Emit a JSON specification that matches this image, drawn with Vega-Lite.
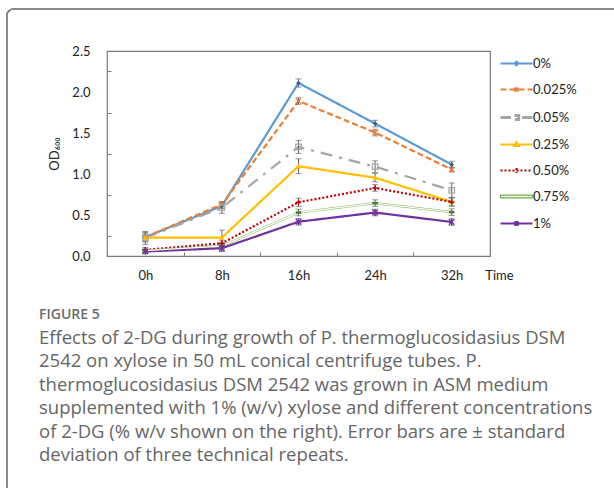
{
  "$schema": "https://vega.github.io/schema/vega-lite/v6.json",
  "width": 383,
  "height": 205,
  "autosize": "none",
  "padding": {"left": 107, "top": 51, "right": 124, "bottom": 232},
  "background": "white",
  "config": {
    "font": "Lato",
    "view": {"stroke": "#7a7a7a", "strokeWidth": 1.2},
    "axis": {"labelFont": "Lato", "labelFontSize": 13, "labelColor": "#222", "titleFont": "Lato", "titleFontSize": 13, "titleFontWeight": "normal", "titleColor": "#222", "domain": false, "grid": false, "tickColor": "#7a7a7a"}
  },
  "title": {
    "text": "FIGURE 5",
    "subtitle": [
      "Effects of 2-DG during growth of P. thermoglucosidasius DSM",
      "2542 on xylose in 50 mL conical centrifuge tubes. P.",
      "thermoglucosidasius DSM 2542 was grown in ASM medium",
      "supplemented with 1% (w/v) xylose and different concentrations",
      "of 2-DG (% w/v shown on the right). Error bars are ± standard",
      "deviation of three technical repeats."
    ],
    "orient": "bottom",
    "anchor": "start",
    "frame": "group",
    "dx": -68,
    "offset": -189,
    "font": "Open Sans",
    "fontSize": 14,
    "fontWeight": 600,
    "color": "#6a6a6a",
    "subtitleFont": "Open Sans",
    "subtitleFontSize": 18.5,
    "subtitleColor": "#666666",
    "subtitleLineHeight": 23.5,
    "subtitlePadding": 7
  },
  "data": {"values": [
    {"time": "0h", "conc": "0%", "od": 0.23, "err": 0.06},
    {"time": "8h", "conc": "0%", "od": 0.61, "err": 0.03},
    {"time": "16h", "conc": "0%", "od": 2.11, "err": 0.05},
    {"time": "24h", "conc": "0%", "od": 1.615, "err": 0.04},
    {"time": "32h", "conc": "0%", "od": 1.115, "err": 0.04},
    {"time": "0h", "conc": "0.025%", "od": 0.23, "err": 0.05},
    {"time": "8h", "conc": "0.025%", "od": 0.63, "err": 0.03},
    {"time": "16h", "conc": "0.025%", "od": 1.89, "err": 0.04},
    {"time": "24h", "conc": "0.025%", "od": 1.505, "err": 0.04},
    {"time": "32h", "conc": "0.025%", "od": 1.055, "err": 0.03},
    {"time": "0h", "conc": "0.05%", "od": 0.22, "err": 0.08},
    {"time": "8h", "conc": "0.05%", "od": 0.59, "err": 0.07},
    {"time": "16h", "conc": "0.05%", "od": 1.33, "err": 0.08},
    {"time": "24h", "conc": "0.05%", "od": 1.09, "err": 0.07},
    {"time": "32h", "conc": "0.05%", "od": 0.8, "err": 0.09},
    {"time": "0h", "conc": "0.25%", "od": 0.225, "err": 0.03},
    {"time": "8h", "conc": "0.25%", "od": 0.225, "err": 0.09},
    {"time": "16h", "conc": "0.25%", "od": 1.095, "err": 0.09},
    {"time": "24h", "conc": "0.25%", "od": 0.955, "err": 0.05},
    {"time": "32h", "conc": "0.25%", "od": 0.66, "err": 0.05},
    {"time": "0h", "conc": "0.50%", "od": 0.075, "err": 0.03},
    {"time": "8h", "conc": "0.50%", "od": 0.155, "err": 0.03},
    {"time": "16h", "conc": "0.50%", "od": 0.655, "err": 0.05},
    {"time": "24h", "conc": "0.50%", "od": 0.83, "err": 0.04},
    {"time": "32h", "conc": "0.50%", "od": 0.66, "err": 0.05},
    {"time": "0h", "conc": "0.75%", "od": 0.065, "err": 0.02},
    {"time": "8h", "conc": "0.75%", "od": 0.12, "err": 0.03},
    {"time": "16h", "conc": "0.75%", "od": 0.53, "err": 0.04},
    {"time": "24h", "conc": "0.75%", "od": 0.645, "err": 0.04},
    {"time": "32h", "conc": "0.75%", "od": 0.535, "err": 0.04},
    {"time": "0h", "conc": "1%", "od": 0.055, "err": 0.02},
    {"time": "8h", "conc": "1%", "od": 0.095, "err": 0.04},
    {"time": "16h", "conc": "1%", "od": 0.418, "err": 0.04},
    {"time": "24h", "conc": "1%", "od": 0.53, "err": 0.04},
    {"time": "32h", "conc": "1%", "od": 0.415, "err": 0.04}
  ]},
  "encoding": {
    "x": {
      "field": "time", "type": "nominal", "sort": ["0h", "8h", "16h", "24h", "32h"],
      "scale": {"paddingInner": 0, "paddingOuter": 0},
      "axis": {"labelAngle": 0, "tickBand": "extent", "tickSize": -4, "labelPadding": 17, "title": "Time", "titleX": 392, "titleY": 13, "titleAlign": "center", "titleBaseline": "top"}
    },
    "y": {
      "field": "od", "type": "quantitative",
      "scale": {"domain": [0, 2.5], "nice": false},
      "axis": {"values": [0, 0.25, 0.5, 0.75, 1, 1.25, 1.5, 1.75, 2, 2.25, 2.5], "labelExpr": "datum.value % 0.5 == 0 ? format(datum.value, '.1f') : ''", "tickOpacity": {"condition": {"test": "datum.value % 0.5 == 0", "value": 0}, "value": 1}, "tickSize": -4, "labelPadding": 21, "title": "OD₆₀₀", "titlePadding": 10}
    }
  },
  "layer": [
    {
      "mark": {"type": "line", "strokeWidth": 2.2},
      "encoding": {
        "color": {
          "field": "conc", "type": "nominal",
          "scale": {"domain": ["0%", "0.025%", "0.05%", "0.25%", "0.50%", "0.75%", "1%"], "range": ["#5b9bd5", "#ed7d31", "#a5a5a5", "#ffc000", "#c00000", "#70ad47", "#7030a0"]},
          "legend": {
            "title": null, "orient": "right", "offset": 14, "padding": 6,
            "symbolSize": 1024, "symbolStrokeWidth": 2, "symbolFillColor": "transparent",
            "labelFont": "Lato", "labelFontSize": 13, "labelColor": "#222", "labelOffset": 10, "rowPadding": 12,
            "encode": {"symbols": {"update": {
              "shape": {"signal": "datum.value == '0%' ? 'M-1,0H1M-0.12,0L0,-0.12L0.12,0L0,0.12Z' : datum.value == '0.025%' ? 'M-1,0H1M-0.12,-0.12L0.12,0.12M-0.12,0.12L0.12,-0.12' : datum.value == '0.05%' ? 'M-1,0H-0.35M0.35,0H1M-0.13,-0.13H0.13V0.13H-0.13Z' : datum.value == '0.25%' ? 'M-1,0H1M0,-0.15L0.15,0.1H-0.15Z' : datum.value == '0.50%' ? 'M-1,0H1M0,-0.15V0.15' : datum.value == '0.75%' ? 'M-1,-0.09H1M-1,0.09H1M-1,-0.09V0.09M1,-0.09V0.09' : 'M-1,0H1M-0.13,-0.13L0.13,0.13M-0.13,0.13L0.13,-0.13M0,-0.16V0.16'"},
              "strokeDash": {"signal": "datum.value == '0.025%' ? [5,3] : datum.value == '0.50%' ? [2,2] : [1,0]"},
              "strokeWidth": {"signal": "datum.value == '0.75%' ? 1.3 : datum.value == '0.05%' ? 3 : 2"}
            }}}
          }
        },
        "strokeDash": {
          "field": "conc", "type": "nominal", "legend": null,
          "scale": {"domain": ["0%", "0.025%", "0.05%", "0.25%", "0.50%", "0.75%", "1%"], "range": [[1, 0], [6, 3], [12, 7, 3, 7], [1, 0], [2, 2], [1, 0], [1, 0]]}
        },
        "strokeWidth": {"condition": {"test": "datum.conc == '0.75%'", "value": 4.2}, "value": 2.2}
      }
    },
    {
      "transform": [{"filter": "datum.conc == '0.75%'"}],
      "mark": {"type": "line", "color": "white", "strokeWidth": 1.4},
      "encoding": {"detail": {"field": "conc"}}
    },
    {
      "mark": {"type": "errorbar", "ticks": {"size": 6}, "color": "#666", "thickness": 1},
      "encoding": {"yError": {"field": "err"}}
    },
    {
      "transform": [{"filter": "datum.conc == '0%'"}],
      "mark": {"type": "point", "shape": "diamond", "filled": true, "size": 22, "color": "#2f5f8f", "opacity": 1},
      "encoding": {}
    },
    {
      "transform": [{"filter": "datum.conc == '0.025%'"}],
      "mark": {"type": "point", "shape": "M-1,-1L1,1M-1,1L1,-1", "filled": false, "strokeWidth": 1.4, "size": 25, "color": "#ed7d31", "opacity": 1},
      "encoding": {}
    },
    {
      "transform": [{"filter": "datum.conc == '0.05%'"}],
      "mark": {"type": "point", "shape": "square", "filled": false, "strokeWidth": 1.2, "size": 30, "color": "#a5a5a5", "opacity": 1},
      "encoding": {}
    },
    {
      "transform": [{"filter": "datum.conc == '0.25%'"}],
      "mark": {"type": "point", "shape": "triangle-up", "filled": true, "size": 30, "color": "#ffc000", "opacity": 1},
      "encoding": {}
    },
    {
      "transform": [{"filter": "datum.conc == '0.50%'"}],
      "mark": {"type": "point", "shape": "M-1,0H1M0,-1V1", "filled": false, "strokeWidth": 1.5, "size": 30, "color": "#c00000", "opacity": 1},
      "encoding": {}
    },
    {
      "transform": [{"filter": "datum.conc == '0.75%'"}],
      "mark": {"type": "point", "shape": "M-1,0H1", "filled": false, "strokeWidth": 2.5, "size": 30, "color": "#3f7f2f", "opacity": 1},
      "encoding": {}
    },
    {
      "transform": [{"filter": "datum.conc == '1%'"}],
      "mark": {"type": "point", "shape": "M-1,-1L1,1M-1,1L1,-1M0,-1.3V1.3", "filled": false, "strokeWidth": 1.3, "size": 30, "color": "#7030a0", "opacity": 1},
      "encoding": {}
    },
    {
      "mark": {"type": "rect", "fill": null, "stroke": "#8a8a8a", "strokeWidth": 1.2, "cornerRadius": 6},
      "encoding": {"x": {"value": -100}, "x2": {"value": 620}, "y": {"value": -42}, "y2": {"value": 445}}
    }
  ]
}
